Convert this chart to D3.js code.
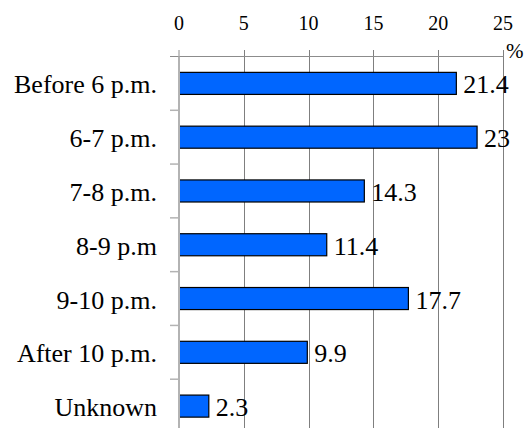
<!DOCTYPE html>
<html><head><meta charset="utf-8">
<script src="https://cdn.jsdelivr.net/npm/d3@7"></script>
<style>html,body{margin:0;padding:0;background:#fff;}svg{display:block;}
text{font-family:"Liberation Serif","Times New Roman",Times,"DejaVu Serif",serif;}</style>
</head><body>
<script>
const categories = ["Before 6 p.m.", "6-7 p.m.", "7-8 p.m.", "8-9 p.m", "9-10 p.m.", "After 10 p.m.", "Unknown"];
const values = [21.4, 23, 14.3, 11.4, 17.7, 9.9, 2.3];
const valueLabels = ["21.4", "23", "14.3", "11.4", "17.7", "9.9", "2.3"];
const xTicks = [0, 5, 10, 15, 20, 25];
const unitLabel = "%";

(function () {
const W = 529, H = 428;
const pLeft = 179, pRight = 503, pTop = 56.5, pBottom = 433;

const svg = d3.select("body").append("svg").attr("width", W).attr("height", H);
const x = d3.scaleLinear().domain([0, 25]).range([pLeft, pRight]);
const y = d3.scaleBand().domain(categories).range([pTop, pBottom]).paddingInner(0.59).paddingOuter(0.295);
const step = y.step();

// gridlines
svg.append("g").selectAll("line").data(xTicks.slice(1)).join("line")
  .attr("x1", d => Math.round(x(d)) + 0.5).attr("x2", d => Math.round(x(d)) + 0.5)
  .attr("y1", 50).attr("y2", pBottom)
  .attr("stroke", "#7f7f7f").attr("stroke-width", 1);

// top axis line and tick at 0
svg.append("line").attr("x1", 170).attr("x2", pRight + 0.5).attr("y1", 56.5).attr("y2", 56.5)
  .attr("stroke", "#8c8c8c").attr("stroke-width", 1);
svg.append("line").attr("x1", x(0)).attr("x2", x(0)).attr("y1", 50).attr("y2", 57)
  .attr("stroke", "#8c8c8c").attr("stroke-width", 1);

// bars
svg.append("g").selectAll("rect").data(values).join("rect")
  .attr("x", x(0)).attr("y", (d, i) => y(categories[i]))
  .attr("width", d => x(d) - x(0)).attr("height", y.bandwidth())
  .attr("fill", "#0066ff").attr("stroke", "#000").attr("stroke-width", 1.2);

// left axis
svg.append("line").attr("x1", x(0)).attr("x2", x(0)).attr("y1", pTop).attr("y2", pBottom)
  .attr("stroke", "#b3b3b3").attr("stroke-width", 2);
svg.append("g").selectAll("line").data(categories.slice(1)).join("line")
  .attr("x1", 170).attr("x2", x(0))
  .attr("y1", d => y(d) - y.paddingInner() * step / 2)
  .attr("y2", d => y(d) - y.paddingInner() * step / 2)
  .attr("stroke", "#b3b3b3").attr("stroke-width", 1.5);

// top tick labels
svg.append("g").selectAll("text").data(xTicks).join("text")
  .attr("x", d => x(d)).attr("y", 30).attr("text-anchor", "middle")
  .attr("font-size", 20).attr("fill", "#000")
  .text(d => d);
svg.append("text").attr("x", 506).attr("y", 58)
  .attr("font-size", 21).text(unitLabel);

// category labels
svg.append("g").selectAll("text").data(categories).join("text")
  .attr("x", 157).attr("y", d => y(d) + y.bandwidth() / 2 + 10)
  .attr("text-anchor", "end").attr("font-size", 26)
  .attr("fill", "#000").text(d => d);

// value labels
svg.append("g").selectAll("text").data(values).join("text")
  .attr("x", d => x(d) + 7).attr("y", (d, i) => y(categories[i]) + y.bandwidth() / 2 + 10)
  .attr("font-size", 26).attr("fill", "#000")
  .text((d, i) => valueLabels[i]);
})();
</script>
</body></html>
